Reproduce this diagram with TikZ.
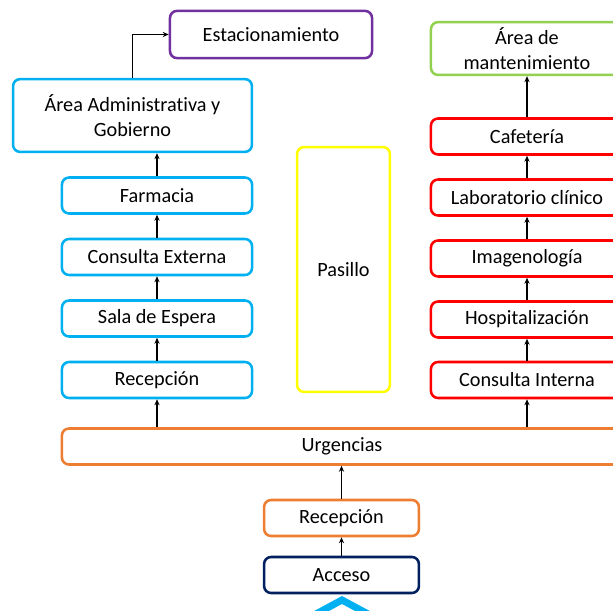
\documentclass[tikz,border=0pt]{standalone}
\usepackage{fontspec}
\setmainfont{Carlito}[Ligatures=NoCommon]
\usepackage{tikz}
\usetikzlibrary{arrows.meta,positioning}
\definecolor{azul}{HTML}{00B0F0}
\definecolor{morado}{HTML}{7030A0}
\definecolor{verde}{HTML}{92D050}
\definecolor{rojo}{HTML}{FF0000}
\definecolor{naranja}{HTML}{ED7D31}
\definecolor{amarillo}{HTML}{FFFF00}
\definecolor{marino}{HTML}{002060}
\tikzset{
  area/.style={rectangle,rounded corners=5pt,line width=1.8pt,fill=white,inner sep=1pt,
    align=center,font=\fontsize{14.4}{17.5}\selectfont,minimum height=0.9cm},
  admv/.style={area,draw=azul,minimum width=4.75cm},
  hospv/.style={area,draw=rojo,minimum width=4.8cm},
  accv/.style={area,minimum width=3.87cm},
  flecha/.style={line width=.85pt,black,-{Stealth[length=1.5mm,width=1.3mm]}}
}
\begin{document}
\begin{tikzpicture}[x=0.025cm,y=-0.025cm]
  \useasboundingbox (0,0) rectangle (613,611);
  \clip (0,0) rectangle (613,611);
  % columna izquierda
  \node[area,draw=morado,minimum width=5.05cm,minimum height=1.18cm] (est) at (271,34.5) {Estacionamiento};
  \node[area,draw=azul,minimum width=5.97cm,minimum height=1.82cm] (admin) at (132.5,115.5) {Área Administrativa y\\Gobierno};
  \node[admv] (farm) at (157,195.5) {Farmacia};
  \node[admv] (cext) at (157,257) {Consulta Externa};
  \node[admv] (sala) at (157,318.5) {Sala de Espera};
  \node[admv] (recL) at (157,380) {Recepción};
  % pasillo
  \node[area,draw=amarillo,minimum width=2.32cm,minimum height=6.12cm] (pas) at (343.5,269.5) {Pasillo};
  % columna derecha
  \node[area,draw=verde,minimum width=4.8cm,minimum height=1.32cm] (mant) at (527,48.5) {Área de\\mantenimiento};
  \node[hospv] (cafe) at (527,136.5) {Cafetería};
  \node[hospv] (lab) at (527,197.5) {Laboratorio clínico};
  \node[hospv] (img) at (527,258.5) {Imagenología};
  \node[hospv] (hosp) at (527,319.5) {Hospitalización};
  \node[hospv] (cint) at (527,380) {Consulta Interna};
  % entrada
  \node[area,draw=naranja,minimum width=14cm] (urg) at (342,446.5) {Urgencias};
  \node[accv,draw=naranja] (recB) at (341.5,518) {Recepción};
  \node[accv,draw=marino] (acc) at (341.5,575) {Acceso};
  \coordinate (ch) at (342,600);
  \draw[azul,line width=5pt] ([xshift=-0.78cm,yshift=-0.42cm]ch) -- (ch) -- ([xshift=0.78cm,yshift=-0.42cm]ch);
  % flechas
  \draw[flecha] (acc) -- (recB);
  \draw[flecha] (recB) -- (recB |- urg.south);
  \draw[flecha] (recL |- urg.north) -- (recL);
  \draw[flecha] (cint |- urg.north) -- (cint);
  \foreach \a/\b in {recL/sala,sala/cext,cext/farm,cint/hosp,hosp/img,img/lab,lab/cafe,cafe/mant}
    \draw[flecha] (\a) -- (\b);
  \draw[flecha] (farm) -- (farm |- admin.south);
  \draw[flecha] (admin.north) |- (est.west);
\end{tikzpicture}
\end{document}
